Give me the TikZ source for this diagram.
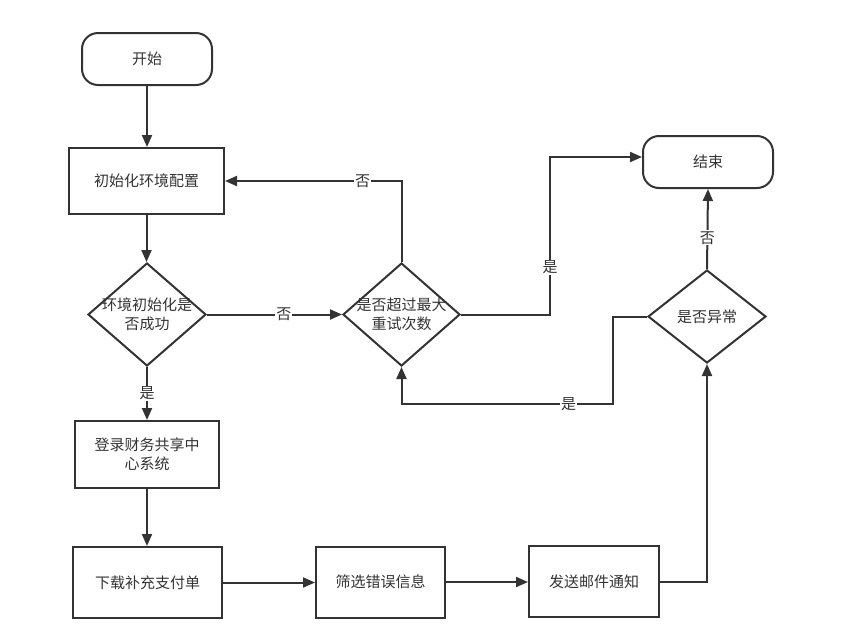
\documentclass[tikz,border=0pt]{standalone}
\usepackage{fontspec}
\setmainfont{Noto Sans CJK SC}
\usetikzlibrary{shapes.geometric,arrows.meta}
\definecolor{ln}{HTML}{333333}
\definecolor{tx}{HTML}{333333}
\tikzset{
  base/.style={draw=ln, line width=2pt, inner sep=0pt, text=tx, align=center,
    font=\fontsize{15}{19}\selectfont},
  term/.style={base, rectangle, rounded corners=16pt},
  proc/.style={base, rectangle},
  deci/.style={base, diamond},
  conn/.style={draw=ln, line width=2pt, -{Triangle[length=12pt,width=10pt]}},
  elab/.style={fill=white, inner sep=1pt, text=tx, font=\fontsize{15}{19}\selectfont}
}
\begin{document}
\begin{tikzpicture}[x=1pt,y=-1pt]
\useasboundingbox (0,0) rectangle (843,641);
\node[term, minimum width=130pt, minimum height=52pt] (start) at (147,59) {开始};
\node[proc, minimum width=155pt, minimum height=66pt] (init) at (146.5,181) {初始化环境配置};
\node[deci, minimum width=118pt, minimum height=103pt,
  label={[align=center,text=tx,font=\fontsize{15}{19}\selectfont]center:环境初始化是\\否成功}] (d1) at (147,314.5) {};
\node[deci, minimum width=117pt, minimum height=103pt,
  label={[align=center,text=tx,font=\fontsize{15}{19}\selectfont]center:是否超过最大\\重试次数}] (d2) at (401.5,314.5) {};
\node[term, minimum width=130pt, minimum height=52pt] (end) at (708,162) {结束};
\node[deci, minimum width=118pt, minimum height=93pt,
  label={[align=center,text=tx,font=\fontsize{15}{19}\selectfont]center:是否异常}] (d3) at (707,316.5) {};
\node[proc, minimum width=144pt, minimum height=67pt] (login) at (147,454.5) {登录财务共享中\\心系统};
\node[proc, minimum width=149pt, minimum height=71pt] (down) at (147.5,582.5) {下载补充支付单};
\node[proc, minimum width=129pt, minimum height=71pt] (filt) at (380.5,582) {筛选错误信息};
\node[proc, minimum width=130pt, minimum height=71pt] (mail) at (594,581.5) {发送邮件通知};

\coordinate (c1) at (550,157);
\coordinate (c2) at (613,404);

\draw[conn] (start.south) -- (start.south |- init.north);
\draw[conn] (init.south) -- (init.south |- d1.north);
\draw[conn] (d1.east) -- node[elab, pos=0.57]{否} (d2.west);
\draw[conn] (d2.north) |- node[elab, pos=0.61]{否} (init.east);
\draw[conn] (d2.east) -| node[elab, pos=0.65]{是} (c1) -- ([yshift=5pt]end.west);
\draw[conn] (d3.north) -- node[elab, pos=0.39]{否} (end.south);
\draw[conn] (d3.west) -| (c2) -| node[elab, pos=0.105]{是} (d2.south);
\draw[conn] (d1.south) -- node[elab]{是} (d1.south |- login.north);
\draw[conn] (login.south) -- (login.south |- down.north);
\draw[conn] (down.east) -- (down.east -| filt.west);
\draw[conn] (filt.east) -- (filt.east -| mail.west);
\draw[conn] (mail.east) -| (d3.south);
\end{tikzpicture}
\end{document}
